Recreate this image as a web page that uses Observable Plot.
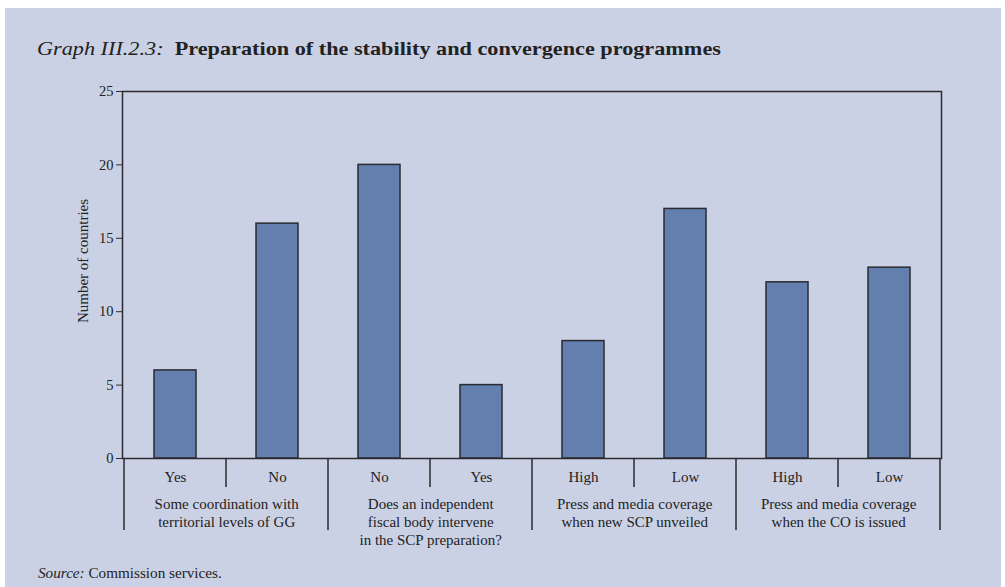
<!DOCTYPE html>
<html><head><meta charset="utf-8">
<script src="https://cdn.jsdelivr.net/npm/d3@7"></script>
<script src="https://cdn.jsdelivr.net/npm/@observablehq/plot@0.6"></script>
<style>
html,body{margin:0;padding:0;background:#fff;}
#panel{position:absolute;left:5px;top:8px;width:996px;height:579px;background:#cbd1e4;font-family:"Liberation Serif","Times New Roman",serif;color:#222;}
#title{position:absolute;left:32px;top:30px;font-size:19px;white-space:nowrap;transform:scaleX(1.17);transform-origin:0 0;}
#chart{position:absolute;left:0;top:67px;}
#source{position:absolute;left:33px;top:556px;font-size:15.2px;white-space:nowrap;}
</style></head><body>
<div id="panel">
<div id="title"><i>Graph III.2.3:</i>&nbsp; <b>Preparation of the stability and convergence programmes</b></div>
<div id="chart"></div>
<div id="source"><i>Source:</i> Commission services.</div>
</div>
<script>
const groups = ["Some coordination with\nterritorial levels of GG", "Does an independent\nfiscal body intervene\nin the SCP preparation?", "Press and media coverage\nwhen new SCP unveiled", "Press and media coverage\nwhen the CO is issued"];
const answers = ["Yes","No","No","Yes","High","Low","High","Low"];
const groupOf = [0,0,1,1,2,2,3,3];
const counts = [6,16,20,5,8,17,12,13];
const yTicks = [0,5,10,15,20,25];

const data = answers.map((a, i) => ({id: "c" + i, answer: a, group: groupOf[i], count: counts[i], first: i === 0 || groupOf[i] !== groupOf[i-1]}));
const ids = data.map(d => d.id);
const groupData = data.filter(d => d.first).map(d => ({...d, label: groups[d.group]}));

const W = 996, ML = 117, MR = 60, MT = 16, MB = 90, H = 473;
const PAD = 0.59;
const step = (W - ML - MR) / ids.length;
const ink = "#2a2a30";
const FS = 15;

function separators(index, scales) {
  const x = scales.x, y = scales.y;
  const st = x.step();
  const y0 = y(0);
  const g = d3.create("svg:g").attr("stroke", ink).attr("stroke-width", 1.5);
  data.forEach((d, i) => {
    const xl = x(d.id) - (st - x.bandwidth()) / 2;
    g.append("line").attr("x1", xl).attr("x2", xl).attr("y1", y0).attr("y2", y0 + (d.first ? 72 : 29));
  });
  const last = data[data.length - 1];
  const xr = x(last.id) + x.bandwidth() + (st - x.bandwidth()) / 2;
  g.append("line").attr("x1", xr).attr("x2", xr).attr("y1", y0).attr("y2", y0 + 72);
  return g.node();
}

const chart = Plot.plot({
  width: W, height: H,
  marginLeft: ML, marginRight: MR, marginTop: MT, marginBottom: MB,
  style: {fontFamily: "'Liberation Serif','Times New Roman',serif", fontSize: FS + "px", color: "#222", background: "transparent", overflow: "visible"},
  x: {type: "band", domain: ids, paddingInner: PAD, paddingOuter: PAD / 2, axis: null},
  y: {domain: [0, 25], ticks: yTicks, label: null, tickSize: 6, tickPadding: 3},
  marks: [
    Plot.barY(data, {x: "id", y: "count", fill: "#637fad", stroke: ink, strokeWidth: 1.5}),
    Plot.frame({stroke: ink, strokeWidth: 1.5}),
    Plot.axisY({ticks: yTicks, tickSize: 6, tickPadding: 3, label: null, fontSize: 14.5, stroke: ink}),
    separators,
    Plot.text(data, {x: "id", y: () => 0, text: "answer", dy: 19, fontSize: FS, fill: "#222"}),
    Plot.text(groupData, {x: "id", y: () => 0, text: "label", dx: step / 2, dy: 37, lineAnchor: "top", lineHeight: 1.22, fontSize: FS, fill: "#222"}),
    Plot.text(["Number of countries"], {frameAnchor: "left", textAnchor: "middle", rotate: -90, dx: -39, dy: -14, fontSize: FS, fill: "#222"})
  ]
});
document.getElementById("chart").appendChild(chart);
</script>
</body></html>
